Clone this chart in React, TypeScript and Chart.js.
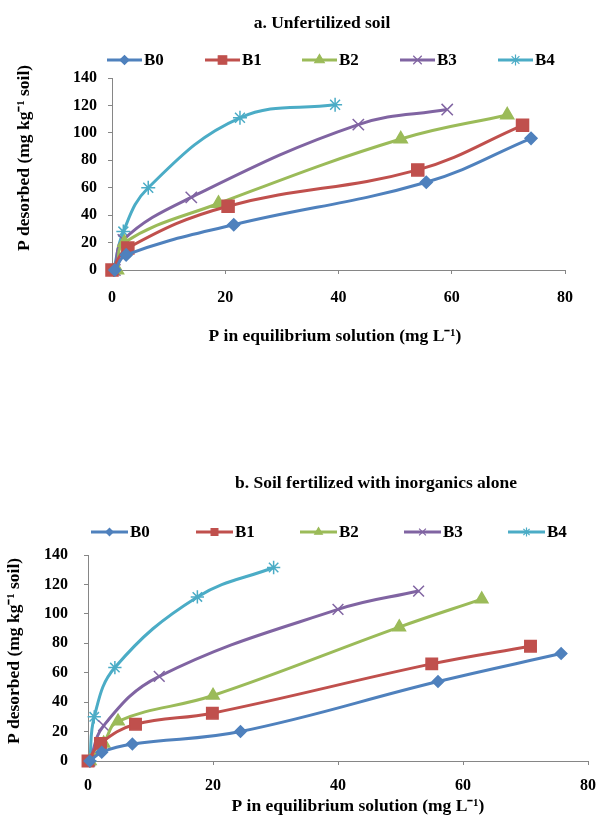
import React, { useEffect, useRef } from 'react';
import { Chart, registerables } from 'chart.js';
import { drawPoint } from 'chart.js/helpers';

Chart.register(...registerables);

// ---------- data ----------
const SERIES = ['B0', 'B1', 'B2', 'B3', 'B4'];
const COLORS = ['#4F81BD', '#C0504D', '#9BBB59', '#8064A2', '#4BACC6'];
const MARKERS = ['rectRot', 'rect', 'triangle', 'crossRot', 'star'];
const MARKER_RADII = [6, 8.5, 7.5, 8, 7];
const LEGEND_RADII = [4.5, 6, 5.5, 6, 5.5];

const X_TICKS = [0, 20, 40, 60, 80];
const Y_TICKS = [0, 20, 40, 60, 80, 100, 120, 140];

// a. Unfertilized soil
const A_B0_X = [0.5, 2.5, 21.5, 55.5, 74];
const A_B0_Y = [0, 11, 33, 64, 96];
const A_B1_X = [0, 2.8, 20.5, 54, 72.5];
const A_B1_Y = [0, 16, 46.5, 73, 105.5];
const A_B2_X = [0.9, 2.2, 18.8, 51, 69.8];
const A_B2_Y = [0, 20, 48.5, 95.5, 113];
const A_B3_X = [0.5, 2, 14, 43.5, 59.2];
const A_B3_Y = [0, 22, 53, 106, 117];
const A_B4_X = [0.3, 2, 6.4, 22.6, 39.4];
const A_B4_Y = [0, 28, 60, 111, 120.5];

// b. Soil fertilized with inorganics alone
const B_B0_X = [0.3, 2.2, 7.1, 24.4, 56, 75.7];
const B_B0_Y = [0, 6, 11.5, 20, 54, 73];
const B_B1_X = [0, 2, 7.6, 19.9, 55, 70.8];
const B_B1_Y = [0, 12, 25, 32.5, 66, 78];
const B_B2_X = [0.3, 2.5, 4.8, 20, 49.8, 63];
const B_B2_Y = [0, 12, 27, 44.5, 91, 110];
const B_B3_X = [0.3, 2.5, 11.4, 40, 52.9];
const B_B3_Y = [0, 24, 57.5, 103, 115.5];
const B_B4_X = [0.3, 1, 4.3, 17.5, 29.7];
const B_B4_Y = [0, 30, 63.5, 111.5, 131.5];

const TITLE_A = 'a. Unfertilized soil';
const TITLE_B = 'b. Soil fertilized with inorganics alone';
const X_TITLE = 'P in equilibrium solution (mg L\u207B\u00B9)';
const Y_TITLE = 'P desorbed (mg kg\u207B\u00B9 soil)';

const FONT = '"Liberation Serif", "Times New Roman", serif';
const AXIS_COLOR = '#868686';

const headerPlugin = {
  id: 'header',
  afterDraw(chart: any, _args: any, opts: any) {
    const ctx = chart.ctx;
    ctx.save();
    ctx.fillStyle = '#000';
    ctx.textAlign = 'center';
    ctx.textBaseline = 'middle';
    ctx.font = `bold ${opts.titleSize}px ${FONT}`;
    ctx.fillText(opts.title, opts.titleX, opts.titleY);
    ctx.font = `bold ${opts.axisTitleSize}px ${FONT}`;
    ctx.fillText(X_TITLE, opts.xTitleX, opts.xTitleY);
    ctx.save();
    ctx.translate(opts.yTitleX, opts.yTitleY);
    ctx.rotate(-Math.PI / 2);
    ctx.fillText(Y_TITLE, 0, 0);
    ctx.restore();

    ctx.font = `bold ${opts.legendSize}px ${FONT}`;
    ctx.textAlign = 'left';
    opts.legendX.forEach((lx: number, i: number) => {
      const ds = chart.data.datasets[i];
      ctx.strokeStyle = ds.borderColor;
      ctx.fillStyle = ds.borderColor;
      ctx.lineWidth = 3;
      ctx.beginPath();
      ctx.moveTo(lx, opts.legendY);
      ctx.lineTo(lx + opts.lineLen, opts.legendY);
      ctx.stroke();
      ctx.lineWidth = 1.2;
      drawPoint(ctx, { pointStyle: ds.pointStyle, radius: LEGEND_RADII[i] * opts.markerScale, borderWidth: 1.2, rotation: 0 } as any,
        lx + opts.lineLen / 2, opts.legendY);
      ctx.fillStyle = '#000';
      ctx.fillText(ds.label, lx + opts.lineLen + 2, opts.legendY + 1);
    });
    ctx.restore();
  },
};

function buildConfig(p: any) {
  const datasets = SERIES.map((name, i) => ({
    label: name,
    data: p.xs[i].map((x: number, j: number) => ({ x, y: p.ys[i][j] })),
    showLine: true,
    borderColor: COLORS[i],
    backgroundColor: COLORS[i],
    borderWidth: 3,
    pointStyle: MARKERS[i],
    pointRadius: MARKER_RADII[i] * p.markerScale,
    pointBorderWidth: 1.5,
    pointBorderColor: COLORS[i],
    pointBackgroundColor: COLORS[i],
    tension: 0.4,
    clip: false,
  }));
  const tickFont = { family: FONT, size: 16, weight: 'bold' };
  return {
    type: 'scatter',
    data: { datasets },
    options: {
      animation: false,
      responsive: false,
      events: [],
      layout: { padding: { top: p.padTop, right: p.padRight, left: 0, bottom: 0 } },
      plugins: {
        legend: { display: false },
        title: { display: false },
        tooltip: { enabled: false },
        header: p.header,
      },
      scales: {
        x: {
          type: 'linear', min: 0, max: 80,
          afterBuildTicks: (s: any) => { s.ticks = X_TICKS.map((v) => ({ value: v })); },
          ticks: { padding: p.xTickPad, font: tickFont, color: '#000' },
          grid: { drawOnChartArea: false, tickLength: 4, color: AXIS_COLOR },
          border: { color: AXIS_COLOR },
          afterFit: (s: any) => { s.height = p.xAxisH; },
        },
        y: {
          type: 'linear', min: 0, max: 140,
          afterBuildTicks: (s: any) => { s.ticks = Y_TICKS.map((v) => ({ value: v })); },
          ticks: { padding: p.yTickPad, font: tickFont, color: '#000' },
          grid: { drawOnChartArea: false, tickLength: 4, color: AXIS_COLOR },
          border: { color: AXIS_COLOR },
          afterFit: (s: any) => { s.width = p.yAxisW; },
        },
      },
    },
    plugins: [headerPlugin],
  };
}

const CFG_A = {
  xs: [A_B0_X, A_B1_X, A_B2_X, A_B3_X, A_B4_X],
  ys: [A_B0_Y, A_B1_Y, A_B2_Y, A_B3_Y, A_B4_Y],
  markerScale: 1,
  padTop: 78, padRight: 42, xAxisH: 90, xTickPad: 14,
  yAxisW: 112, yTickPad: 11,
  header: {
    title: TITLE_A, titleSize: 17.5, titleX: 322, titleY: 23,
    axisTitleSize: 17.5, xTitleX: 335, xTitleY: 336, yTitleX: 24, yTitleY: 158,
    legendSize: 17, legendY: 60, legendX: [107, 205, 302, 400, 498], lineLen: 35, markerScale: 1,
  },
};

const CFG_B = {
  xs: [B_B0_X, B_B1_X, B_B2_X, B_B3_X, B_B4_X],
  ys: [B_B0_Y, B_B1_Y, B_B2_Y, B_B3_Y, B_B4_Y],
  markerScale: 0.95,
  padTop: 115, padRight: 12, xAxisH: 58, xTickPad: 11,
  yAxisW: 88, yTickPad: 16,
  header: {
    title: TITLE_B, titleSize: 17.5, titleX: 376, titleY: 43,
    axisTitleSize: 17.5, xTitleX: 358, xTitleY: 366, yTitleX: 14, yTitleY: 211,
    legendSize: 17, legendY: 92, legendX: [91, 196, 300, 404, 508], lineLen: 37, markerScale: 0.8,
  },
};

function ChartCanvas({ cfg, top, height }: { cfg: any; top: number; height: number }) {
  const ref = useRef<HTMLCanvasElement>(null);
  useEffect(() => {
    const chart = new Chart(ref.current as HTMLCanvasElement, buildConfig(cfg) as any);
    return () => chart.destroy();
  }, [cfg]);
  return (
    <canvas ref={ref} width={607} height={height}
      style={{ position: 'absolute', left: 0, top, width: 607, height, display: 'block' }} />
  );
}

export default function App() {
  useEffect(() => {
    document.body.style.margin = '0';
    document.body.style.background = '#fff';
  }, []);
  return (
    <div style={{ position: 'relative', width: 607, height: 819, background: '#fff', overflow: 'hidden' }}>
      <ChartCanvas cfg={CFG_A} top={0} height={360} />
      <ChartCanvas cfg={CFG_B} top={440} height={379} />
    </div>
  );
}
